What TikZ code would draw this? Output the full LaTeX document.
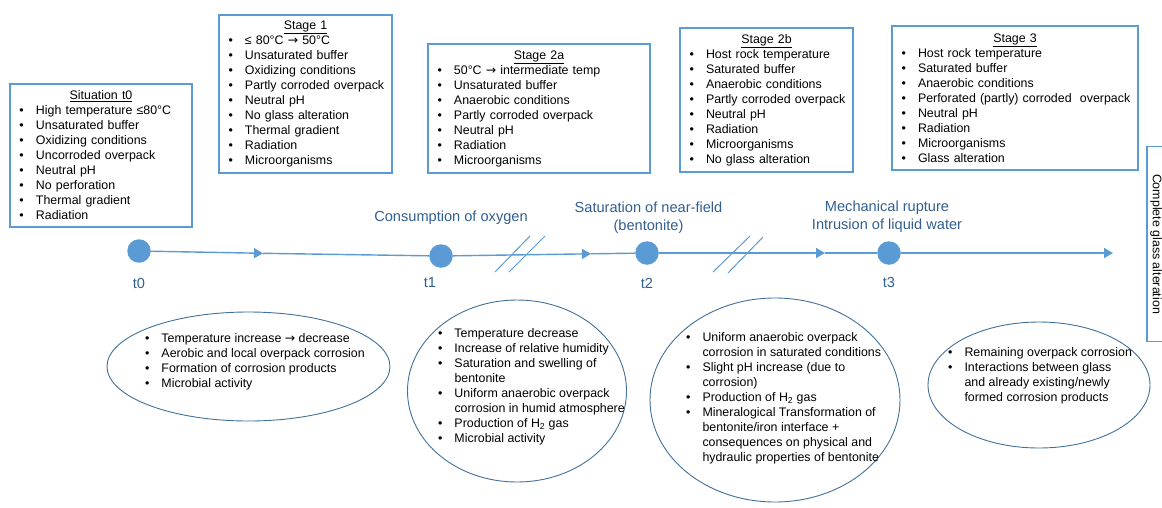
\documentclass[tikz,border=0pt]{standalone}
\usepackage{fontspec}
\setmainfont{Liberation Sans}
\newfontfamily\symfont{DejaVu Sans}
\usetikzlibrary{shapes.geometric,arrows.meta}
\definecolor{boxblue}{HTML}{5B9BD5}
\definecolor{lineblue}{HTML}{5B9BD5}
\definecolor{ellblue}{HTML}{41719C}
\definecolor{lblblue}{HTML}{325F91}
\newcommand\txtfont{\fontsize{12.4}{15}\selectfont}
\newcommand\evtfont{\fontsize{14.6}{18}\selectfont}
\newcommand\ttl[2][0pt]{\hspace*{\fill}\underline{#2}\hspace*{\fill}\hspace*{#1}}
\newcommand\itm[1]{\mbox{\makebox[16.5pt][l]{•}#1}}
\newcommand\cnt[1]{\mbox{\hspace*{16.5pt}#1}}
\newcommand\arr{{\symfont →}}
\begin{document}
\begin{tikzpicture}[x=1pt,y=-1pt,
  box/.style={draw=boxblue, line width=1.1pt, inner xsep=9.5pt, inner ysep=0pt, align=left, font=\txtfont},
  ell/.style={ellipse, draw=ellblue, line width=0.9pt, inner sep=0pt},
  etxt/.style={anchor=north west, inner sep=0pt, align=left, font=\txtfont},
  evt/.style={text=lblblue, font=\evtfont, align=center, inner sep=0pt},
  tl/.style={circle, fill=lineblue, minimum size=23.5pt, inner sep=0pt},
  tlab/.style={text=lblblue, font=\evtfont, inner sep=0pt},
  tline/.style={draw=lineblue, line width=1.4pt},
  brk/.style={draw=lineblue, line width=1pt},
  midarrow/.style={-{Triangle[width=10pt,length=9pt]}}
]
\fill[white] (0,0) rectangle (1162,507);
\useasboundingbox (0,0) rectangle (1162,507);

% state boxes
\node[box, minimum width=182pt, minimum height=143pt, text width=163pt] (s0) at (101,155.5)
 {\ttl{Situation t0}\\ \itm{High temperature ≤80°C}\\ \itm{Unsaturated buffer}\\ \itm{Oxidizing conditions}\\
  \itm{Uncorroded overpack}\\ \itm{Neutral pH}\\ \itm{No perforation}\\ \itm{Thermal gradient}\\ \itm{Radiation}};
\node[box, minimum width=173pt, minimum height=158pt, text width=154pt] (s1) at (305.5,94)
 {\ttl{Stage 1}\\ \itm{≤ 80°C \arr\ 50°C}\\ \itm{Unsaturated buffer}\\ \itm{Oxidizing conditions}\\
  \itm{Partly corroded overpack}\\ \itm{Neutral pH}\\ \itm{No glass alteration}\\ \itm{Thermal gradient}\\
  \itm{Radiation}\\ \itm{Microorganisms}};
\node[box, minimum width=222pt, minimum height=129pt, text width=203pt] (s2a) at (539,108.5)
 {\ttl[12pt]{Stage 2a}\\ \itm{50°C \arr\ intermediate temp}\\ \itm{Unsaturated buffer}\\ \itm{Anaerobic conditions}\\
  \itm{Partly corroded overpack}\\ \itm{Neutral pH}\\ \itm{Radiation}\\ \itm{Microorganisms}};
\node[box, minimum width=173pt, minimum height=144pt, text width=154pt] (s2b) at (766.5,100)
 {\ttl[9pt]{Stage 2b}\\ \itm{Host rock temperature}\\ \itm{Saturated buffer}\\ \itm{Anaerobic conditions}\\
  \itm{Partly corroded overpack}\\ \itm{Neutral pH}\\ \itm{Radiation}\\ \itm{Microorganisms}\\ \itm{No glass alteration}};
\node[box, minimum width=246pt, minimum height=144pt, text width=227pt] (s3) at (1015,98)
 {\ttl{Stage 3}\\ \itm{Host rock temperature}\\ \itm{Saturated buffer}\\ \itm{Anaerobic conditions}\\
  \itm{Perforated (partly) corroded\ \ overpack}\\ \itm{Neutral pH}\\ \itm{Radiation}\\ \itm{Microorganisms}\\ \itm{Glass alteration}};
\node[draw=boxblue, line width=1.1pt, rotate=-90, minimum width=195pt, minimum height=18pt, inner sep=0pt,
  font=\txtfont] (cga) at (1156,244) {Complete glass alteration};

% timeline
\node[tl] (t0) at (139,251) {};
\node[tl] (t1) at (441,256) {};
\node[tl] (t2) at (647,253) {};
\node[tl] (t3) at (889,253) {};
\coordinate (a1) at (263,253.3);
\coordinate (a2) at (591,253.8);
\coordinate (a3) at (825,253);
\coordinate (aend) at (1113,253);
\draw[tline, midarrow] (t0) -- (a1);
\draw[tline] (a1) -- (t1);
\draw[tline, midarrow] (t1) -- (a2);
\draw[tline] (a2) -- (t2);
\draw[tline, midarrow] (t2) -- (a3);
\draw[tline] (a3) -- (t3);
\draw[tline, midarrow] (t3) -- (aend);

% breaks
\coordinate (b1s) at (495,272); \coordinate (b1e) at (530,236);
\coordinate (b2s) at (509,272); \coordinate (b2e) at (545,236);
\coordinate (b3s) at (713,272); \coordinate (b3e) at (750,236);
\coordinate (b4s) at (728,273); \coordinate (b4e) at (763,237);
\draw[brk] (b1s) -- (b1e);
\draw[brk] (b2s) -- (b2e);
\draw[brk] (b3s) -- (b3e);
\draw[brk] (b4s) -- (b4e);

% labels
\node[tlab] (l0) at (139,283) {t0};
\node[tlab] (l1) at (430,283) {t1};
\node[tlab] (l2) at (647,283) {t2};
\node[tlab] (l3) at (889,282) {t3};
\node[evt] (ev1) at (451,218) {Consumption of oxygen};
\node[evt] (ev2) at (648.5,218) {Saturation of near-field\\(bentonite)};
\node[evt] (ev3) at (887,217) {Mechanical rupture\\Intrusion of liquid water};

% ellipses
\node[ell, minimum width=283pt, minimum height=109pt] (e0) at (248.5,366.5) {};
\node[etxt] (e0t) at (144.8,333.1)
 {\itm{Temperature increase \arr\ decrease}\\ \itm{Aerobic and local overpack corrosion}\\
  \itm{Formation of corrosion products}\\ \itm{Microbial activity}};
\node[ell, minimum width=219pt, minimum height=182pt] (e1) at (517,391) {};
\node[etxt] (e1t) at (437.8,328.1)
 {\itm{Temperature decrease}\\ \itm{Increase of relative humidity}\\ \itm{Saturation and swelling of}\\ \cnt{bentonite}\\
  \itm{Uniform anaerobic overpack}\\ \cnt{corrosion in humid atmosphere}\\ \itm{Production of H\textsubscript{2} gas}\\
  \itm{Microbial activity}};
\node[ell, minimum width=250pt, minimum height=204pt] (e2) at (775,400) {};
\node[etxt] (e2t) at (685.8,332.1)
 {\itm{Uniform anaerobic overpack}\\ \cnt{corrosion in saturated conditions}\\ \itm{Slight pH increase (due to}\\ \cnt{corrosion)}\\
  \itm{Production of H\textsubscript{2} gas}\\ \itm{Mineralogical Transformation of}\\ \cnt{bentonite/iron interface +}\\
  \cnt{consequences on physical and}\\ \cnt{hydraulic properties of bentonite}};
\node[ell, minimum width=222pt, minimum height=126pt] (e3) at (1039,385) {};
\node[etxt] (e3t) at (947.8,347.1)
 {\itm{Remaining overpack corrosion}\\ \itm{Interactions between glass}\\ \cnt{and already existing/newly}\\
  \cnt{formed corrosion products}};
\end{tikzpicture}
\end{document}
